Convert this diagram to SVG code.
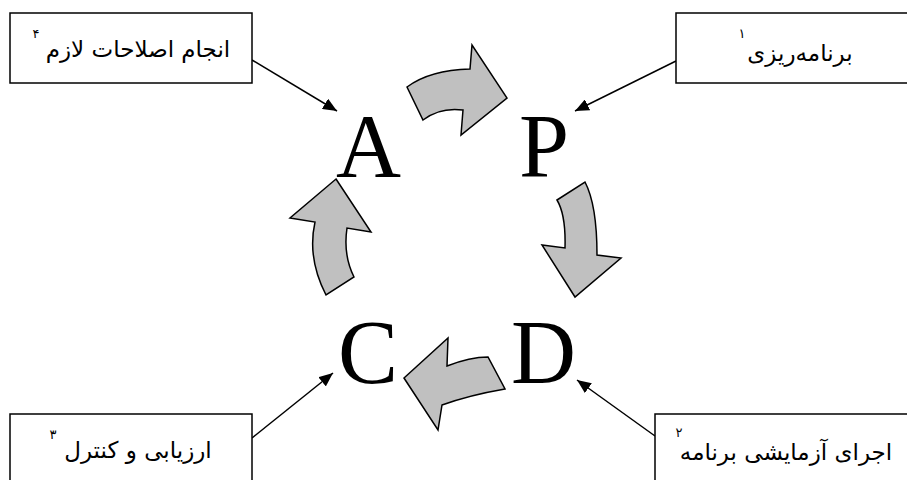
<svg xmlns="http://www.w3.org/2000/svg" width="907" height="480" viewBox="0 0 907 480">
<defs>
<marker id="ah" viewBox="0 0 14 12" refX="14" refY="6" markerWidth="14" markerHeight="12" markerUnits="userSpaceOnUse" orient="auto">
<path d="M0,0 L14,6 L0,12 Z" fill="#000"/>
</marker>
<style>
.box{fill:#fff;stroke:#000;stroke-width:1.5}
.lbl{font-family:"DejaVu Sans",sans-serif;font-size:23px;fill:#000;text-anchor:middle;direction:rtl}
.sup{font-family:"DejaVu Sans",sans-serif;font-size:13px;fill:#000;text-anchor:middle}
.big{font-family:"Liberation Serif","Times New Roman",serif;font-size:90px;fill:#000}
.conn{stroke:#000;stroke-width:1.5;fill:none;marker-end:url(#ah)}
.cyc{fill:#c0c0c0;stroke:#000;stroke-width:1.5;stroke-linejoin:miter}
</style>
</defs>
<rect width="907" height="480" fill="#fff"/>
<g id="connectors">
<line class="conn" x1="252" y1="60" x2="337" y2="111"/>
<line class="conn" x1="676" y1="61" x2="575" y2="111"/>
<line class="conn" x1="252" y1="438" x2="333" y2="373"/>
<line class="conn" x1="655" y1="436" x2="577" y2="380"/>
</g>
<g id="cycle-arrows">
<path class="cyc" d="M407,87 Q430,70 470,69 L472,45 L507,98 L461,135 L463,110 Q440,107 423,120 Z"/>
<path class="cyc" d="M557,200 L585,182 Q597,205 597,255 L621,258 L575,297 L542,245 L565,248 Q566,215 557,200 Z"/>
<path class="cyc" d="M336,179 L371,232 L347,228 Q343,255 354,277 L326,295 Q307,258 315,222 L290,218 Z"/>
<path class="cyc" d="M404,378 L448,338 L447,366 Q470,357 488,357 L505,389 Q470,395 442,405 L438,430 Z"/>
</g>
<g id="node-A"><text class="big" x="336" y="177">A</text></g>
<g id="node-P"><text class="big" x="519" y="177">P</text></g>
<g id="node-C"><text class="big" x="338" y="383">C</text></g>
<g id="node-D"><text class="big" x="511" y="383">D</text></g>
<g id="box-act">
<rect class="box" x="10" y="13" width="242" height="70"/>
<text class="lbl" x="138" y="57">انجام اصلاحات لازم</text>
<text class="sup" x="36" y="38">۴</text>
</g>
<g id="box-plan">
<rect class="box" x="676" y="13" width="240" height="70"/>
<text class="lbl" x="800" y="61">برنامه‌ریزی</text>
<text class="sup" x="742" y="38">۱</text>
</g>
<g id="box-check">
<rect class="box" x="10" y="414" width="242" height="80"/>
<text class="lbl" x="138" y="458">ارزیابی و کنترل</text>
<text class="sup" x="53" y="439">۳</text>
</g>
<g id="box-do">
<rect class="box" x="655" y="414" width="260" height="80"/>
<text class="lbl" x="786" y="460">اجرای آزمایشی برنامه</text>
<text class="sup" x="679" y="437">۲</text>
</g>
</svg>
